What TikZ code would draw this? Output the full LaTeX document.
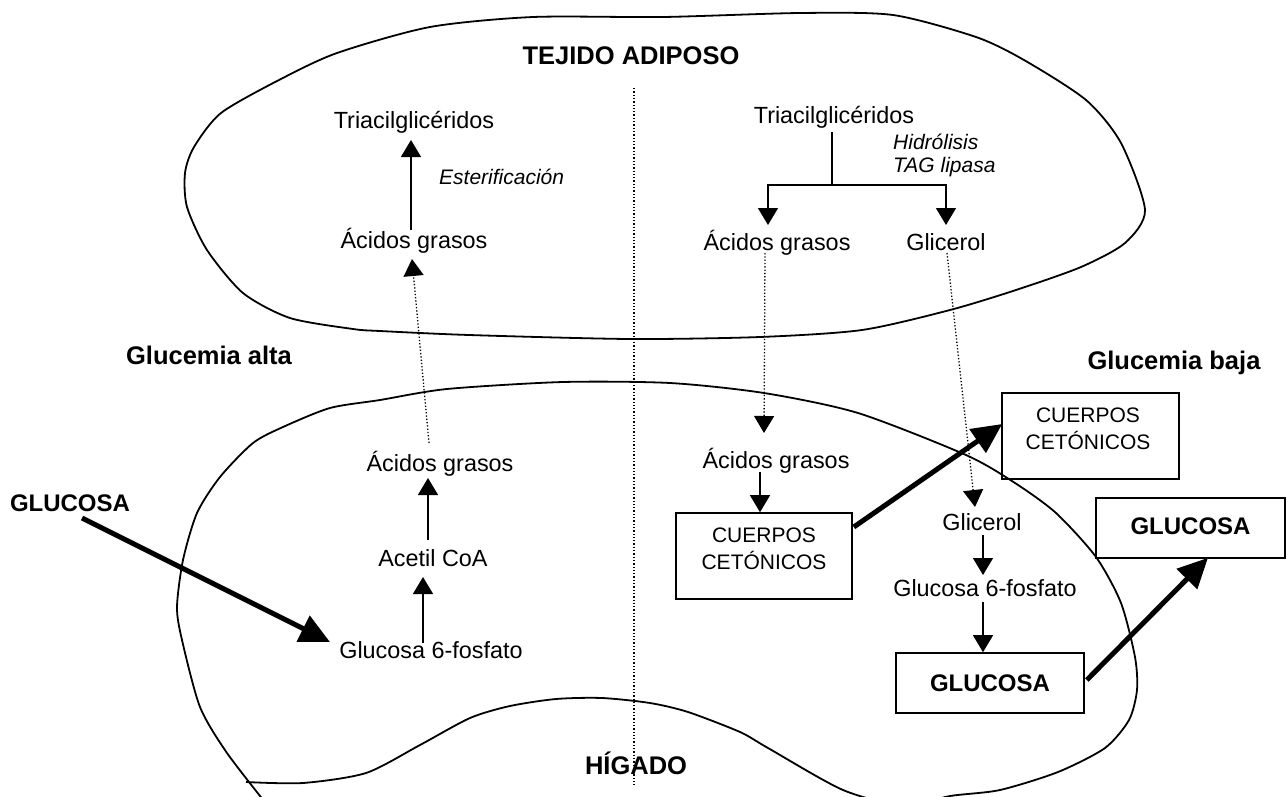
\documentclass[tikz,border=0pt]{standalone}
\usepackage{fontspec}
\setmainfont{Liberation Sans}
\usetikzlibrary{arrows.meta}
\begin{document}
\begin{tikzpicture}[x=1pt,y=-1pt,
  txt/.style={inner sep=0pt, anchor=base, font=\fontsize{23.4}{27}\selectfont},
  ittxt/.style={inner sep=0pt, align=left, font=\fontsize{21}{23}\selectfont\itshape},
  btxt/.style={inner sep=0pt, anchor=base, font=\fontsize{25.5}{28}\selectfont\bfseries},
  cbox/.style={draw, line width=1.6pt, inner sep=0pt},
  boxtxt/.style={inner sep=0pt, align=center, font=\fontsize{21}{27}\selectfont},
  arr/.style={line width=1.3pt, -{Triangle[length=17pt,width=20pt]}},
  darr/.style={line width=1.3pt, dash pattern=on 1.3pt off 2pt, -{Triangle[length=17pt,width=20pt]}},
  bigarr/.style={line width=5pt, -{Triangle[length=30pt,width=28pt]}},
  blob/.style={line width=1.8pt, line join=round},
  dotline/.style={line width=1.3pt, dash pattern=on 1.3pt off 2pt}
]
\useasboundingbox (0,0) rectangle (1286,796);
\fill[white] (0,0) rectangle (1286,796);
\clip (0,0) rectangle (1286,796);

% tejido adiposo outline
\draw[blob] plot[smooth cycle, tension=0.45] coordinates {
 (337,53) (430,27) (533,17) (663,17) (800,13) (893,15) (976,37) (1024,60)
 (1086,100) (1121,143) (1145,210) (1125,243) (1081,267) (1016,290) (950,310)
 (862,330) (760,337) (630,339) (469,335) (380,331) (353,329) (290,318)
 (243,293) (207,250) (187,207) (185,173) (194,147) (221,113) (279,80)};

% higado outline
\draw[blob] plot[smooth, tension=0.45] coordinates {
 (246,782) (303,783) (366,773) (420,745) (470,718) (510,706) (556,699) (602,698)
 (650,703) (688,712) (740,732) (768,748) (843,790) (905,806) (950,796) (1000,790)
 (1058,772) (1105,748) (1129,720) (1137,690) (1135,657) (1121,603) (1096,557)
 (1056,513) (1015,483) (966,455) (858,413) (764,393) (670,383) (563,382)
 (447,389) (380,400) (330,408) (283,427) (253,443) (220,477) (197,513)
 (183,560) (177,607) (182,640) (200,707) (227,753) (268,806)};

% dotted divider
\coordinate (dtop) at (634,88);
\coordinate (dbot) at (634,785);
\draw[dotline] (dtop) -- (dbot);

% titles
\node[btxt] (ta) at (631,64) {TEJIDO ADIPOSO};
\node[btxt] (hig) at (636,774) {HÍGADO};
\node[btxt] (galta) at (209,364) {Glucemia alta};
\node[btxt] (gbaja) at (1174,369) {Glucemia baja};
\node[btxt, font=\fontsize{24}{28}\selectfont\bfseries] (glucL) at (70,511) {GLUCOSA};

% adipose left
\node[txt] (tagL) at (414,128) {Triacilglicéridos};
\node[txt] (agL1) at (414,248) {Ácidos grasos};
\node[ittxt, anchor=base west] (ester) at (439,184.5) {Esterificación};

% adipose right
\node[txt] (tagR) at (834,123) {Triacilglicéridos};
\node[txt] (agR1) at (777,250) {Ácidos grasos};
\node[txt] (glR1) at (946,250) {Glicerol};
\node[ittxt, anchor=north west] (hidro) at (893,134) {Hidrólisis\\TAG lipasa};

% liver left
\node[txt] (agL2) at (440,471) {Ácidos grasos};
\node[txt] (acetil) at (433,566) {Acetil CoA};
\node[txt] (g6pL) at (431,658) {Glucosa 6-fosfato};

% liver right
\node[txt] (agR2) at (776,468) {Ácidos grasos};
\node[cbox, minimum width=176pt, minimum height=86pt] (ccL) at (764,556) {};
\node[boxtxt] (ccLt) at (764,548.5) {CUERPOS\\CETÓNICOS};
\node[cbox, minimum width=177pt, minimum height=86pt] (ccR) at (1090.5,436) {};
\node[boxtxt] (ccRt) at (1088,428.5) {CUERPOS\\CETÓNICOS};
\node[txt] (glR2) at (982,530) {Glicerol};
\node[txt] (g6pR) at (985,596) {Glucosa 6-fosfato};
\node[cbox, minimum width=188pt, minimum height=60pt, font=\fontsize{24}{28}\selectfont\bfseries] (glucB) at (990,683) {GLUCOSA};
\node[cbox, minimum width=189pt, minimum height=60pt, font=\fontsize{24}{28}\selectfont\bfseries] (glucR) at (1190.5,528) {\raisebox{4pt}{GLUCOSA}};

% connectors - adipose
\draw[arr] ([shift={(-3,-18)}]agL1.base) -- ([shift={(-3,12)}]tagL.base);
\draw[darr] ([shift={(-11,-28)}]agL2.base) -- ([shift={(-2,11)}]agL1.base);
\coordinate (split) at (832,185);
\draw[line width=1.3pt] ([shift={(-2,9)}]tagR.base) -- (split);
\draw[arr] (split) -| ([shift={(-9,-25)}]agR1.base);
\draw[arr] (split) -| ([shift={(0,-25)}]glR1.base);
\draw[darr] ([shift={(-12,3)}]agR1.base) -- ([shift={(-12,-35)}]agR2.base);
\draw[darr] ([shift={(1,3)}]glR1.base) -- ([shift={(-7,-23)}]glR2.base);

% connectors - liver
\draw[arr] ([shift={(-16,4)}]agR2.base) -- ([shift={(-4,0)}]ccL.north);
\draw[bigarr] ([shift={(1,-29)}]ccL.east) -- ([shift={(1,-12)}]ccR.west);
\draw[arr] ([shift={(1,5)}]glR2.base) -- ([shift={(-2,-21)}]g6pR.base);
\draw[arr] ([shift={(-2,6)}]g6pR.base) -- ([shift={(-7,0)}]glucB.north);
\draw[bigarr] ([shift={(2,-3)}]glucB.east) -- ([shift={(17.5,-1)}]glucR.south);
\draw[bigarr] ([shift={(12,7)}]glucL.base) -- ([shift={(-101,-16)}]g6pL.base);
\draw[arr] ([shift={(-8,-15)}]g6pL.base) -- ([shift={(-10,11)}]acetil.base);
\draw[arr] ([shift={(-5,-26)}]acetil.base) -- ([shift={(-12,7)}]agL2.base);
\end{tikzpicture}
\end{document}
